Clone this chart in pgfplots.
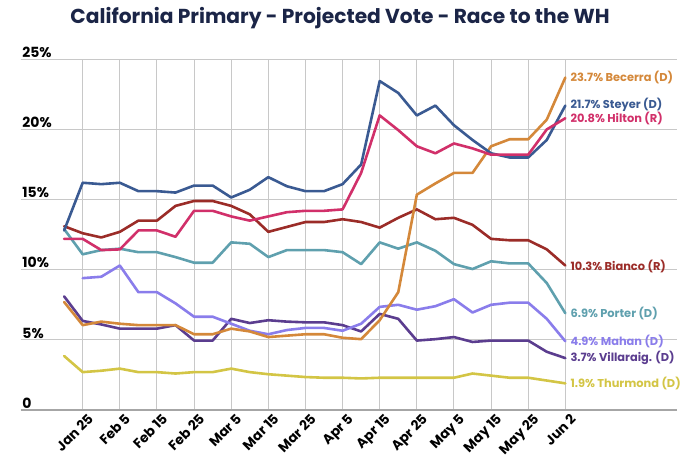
\documentclass[border=0pt]{standalone}
\usepackage{pgfplots}
\pgfplotsset{compat=1.18}
\usepackage{fontspec}
\setmainfont{Poppins}
\definecolor{cBec}{HTML}{D4883A}
\definecolor{cSte}{HTML}{3A5A92}
\definecolor{cHil}{HTML}{D1306A}
\definecolor{cBia}{HTML}{9B2C28}
\definecolor{cPor}{HTML}{5FA0AE}
\definecolor{cMah}{HTML}{8A7DEB}
\definecolor{cVil}{HTML}{5B3D8F}
\definecolor{cThu}{HTML}{D3C545}
\definecolor{cTitle}{HTML}{1B2547}
\definecolor{cGrid}{HTML}{C8C8C8}
\begin{document}
\begin{tikzpicture}
\path[use as bounding box] (0,0) rectangle (680pt,459pt);
\node[font=\bfseries\fontsize{20.2}{20.2}\selectfont, text=cTitle] at (340pt,441pt) {California Primary - Projected Vote - Race to the WH};
\begin{axis}[
  at={(20.7pt,49pt)}, anchor=south west,
  scale only axis, width=656pt, height=350.7pt,
  xmin=-2.34, xmax=33, ymin=0, ymax=25,
  clip=false,
  axis line style={draw=none},
  major tick length=0pt,
  xtick={1,3,...,27},
  xticklabels={Jan 25,Feb 5,Feb 15,Feb 25,Mar 5,Mar 15,Mar 25,Apr 5,Apr 15,Apr 25,May 5,May 15,May 25,Jun 2},
  xticklabel style={rotate=45, anchor=north east, font=\bfseries\fontsize{13.5}{13.5}\selectfont, inner sep=1pt, yshift=-4pt, xshift=2pt},
  ytick={0,5,10,15,20,25},
  yticklabels={0,5\%,10\%,15\%,20\%,25\%},
  yticklabel style={anchor=south west, font=\bfseries\fontsize{14}{14}\selectfont, inner sep=1.5pt},
  xmajorgrids, ymajorgrids,
  grid style={cGrid, line width=1pt},
  every axis plot/.append style={line width=2.6pt, line join=round, line cap=round, mark=none},
]
\draw[gray!70, line width=1.6pt] (rel axis cs:0,0) -- (rel axis cs:1,0);
\addplot[cThu] coordinates {(0,3.85)(1,2.7)(2,2.8)(3,2.95)(4,2.7)(5,2.7)(6,2.6)(7,2.7)(8,2.7)(9,2.95)(10,2.7)(11,2.55)(12,2.45)(13,2.35)(14,2.3)(15,2.3)(16,2.25)(17,2.3)(18,2.3)(19,2.3)(20,2.3)(21,2.3)(22,2.6)(23,2.45)(24,2.3)(25,2.3)(26,2.1)(27,1.9)};
\addplot[cVil] coordinates {(0,8.1)(1,6.35)(2,6.1)(3,5.8)(4,5.8)(5,5.8)(6,6.05)(7,4.95)(8,4.95)(9,6.5)(10,6.2)(11,6.4)(12,6.3)(13,6.25)(14,6.25)(15,6.05)(16,5.6)(17,6.85)(18,6.5)(19,4.95)(20,5.05)(21,5.2)(22,4.85)(23,4.95)(24,4.95)(25,4.95)(26,4.15)(27,3.7)};
\addplot[cMah] coordinates {(1,9.4)(2,9.5)(3,10.3)(4,8.4)(5,8.4)(6,7.6)(7,6.65)(8,6.65)(9,6.15)(10,5.65)(11,5.4)(12,5.7)(13,5.85)(14,5.85)(15,5.65)(16,6.15)(17,7.35)(18,7.5)(19,7.15)(20,7.4)(21,7.9)(22,6.95)(23,7.5)(24,7.65)(25,7.65)(26,6.5)(27,4.9)};
\addplot[cPor] coordinates {(0,12.9)(1,11.1)(2,11.4)(3,11.5)(4,11.25)(5,11.25)(6,10.9)(7,10.5)(8,10.5)(9,11.95)(10,11.85)(11,10.9)(12,11.4)(13,11.4)(14,11.4)(15,11.25)(16,10.4)(17,11.95)(18,11.5)(19,11.95)(20,11.35)(21,10.4)(22,10.05)(23,10.6)(24,10.45)(25,10.45)(26,9.05)(27,6.9)};
\addplot[cBia] coordinates {(0,13.1)(1,12.6)(2,12.3)(3,12.7)(4,13.5)(5,13.5)(6,14.55)(7,14.9)(8,14.9)(9,14.55)(10,13.95)(11,12.7)(12,13.05)(13,13.4)(14,13.4)(15,13.6)(16,13.4)(17,13.0)(18,13.7)(19,14.3)(20,13.6)(21,13.7)(22,13.2)(23,12.2)(24,12.1)(25,12.1)(26,11.45)(27,10.3)};
\addplot[cBec] coordinates {(0,7.7)(1,6.05)(2,6.3)(3,6.15)(4,6.05)(5,6.05)(6,6.05)(7,5.4)(8,5.4)(9,5.8)(10,5.6)(11,5.2)(12,5.3)(13,5.4)(14,5.4)(15,5.15)(16,5.05)(17,6.4)(18,8.4)(19,15.35)(20,16.15)(21,16.9)(22,16.9)(23,18.8)(24,19.3)(25,19.3)(26,20.7)(27,23.7)};
\addplot[cSte] coordinates {(0,12.8)(1,16.2)(2,16.1)(3,16.2)(4,15.6)(5,15.6)(6,15.5)(7,16.0)(8,16.0)(9,15.15)(10,15.7)(11,16.6)(12,15.95)(13,15.6)(14,15.6)(15,16.1)(16,17.5)(17,23.45)(18,22.6)(19,21.0)(20,21.7)(21,20.3)(22,19.25)(23,18.3)(24,18.0)(25,18.0)(26,19.25)(27,21.7)};
\addplot[cHil] coordinates {(0,12.2)(1,12.2)(2,11.4)(3,11.45)(4,12.8)(5,12.8)(6,12.35)(7,14.2)(8,14.2)(9,13.8)(10,13.5)(11,13.8)(12,14.1)(13,14.2)(14,14.2)(15,14.3)(16,16.9)(17,21.0)(18,19.95)(19,18.8)(20,18.3)(21,19.0)(22,18.65)(23,18.2)(24,18.2)(25,18.2)(26,20.0)(27,20.8)};
\tikzset{lab/.style={anchor=west, font=\bfseries\fontsize{11.4}{11.4}\selectfont, inner sep=0pt, xshift=5pt}}
\node[lab, text=cBec] at (axis cs:27,23.7) {23.7\% Becerra (D)};
\node[lab, text=cSte] at (axis cs:27,21.75) {21.7\% Steyer (D)};
\node[lab, text=cHil] at (axis cs:27,20.75) {20.8\% Hilton (R)};
\node[lab, text=cBia] at (axis cs:27,10.2) {10.3\% Bianco (R)};
\node[lab, text=cPor] at (axis cs:27,6.9) {6.9\% Porter (D)};
\node[lab, text=cMah] at (axis cs:27,4.9) {4.9\% Mahan (D)};
\node[lab, text=cVil] at (axis cs:27,3.7) {3.7\% Villaraig. (D)};
\node[lab, text=cThu] at (axis cs:27,1.9) {1.9\% Thurmond (D)};
\end{axis}
\end{tikzpicture}
\end{document}
